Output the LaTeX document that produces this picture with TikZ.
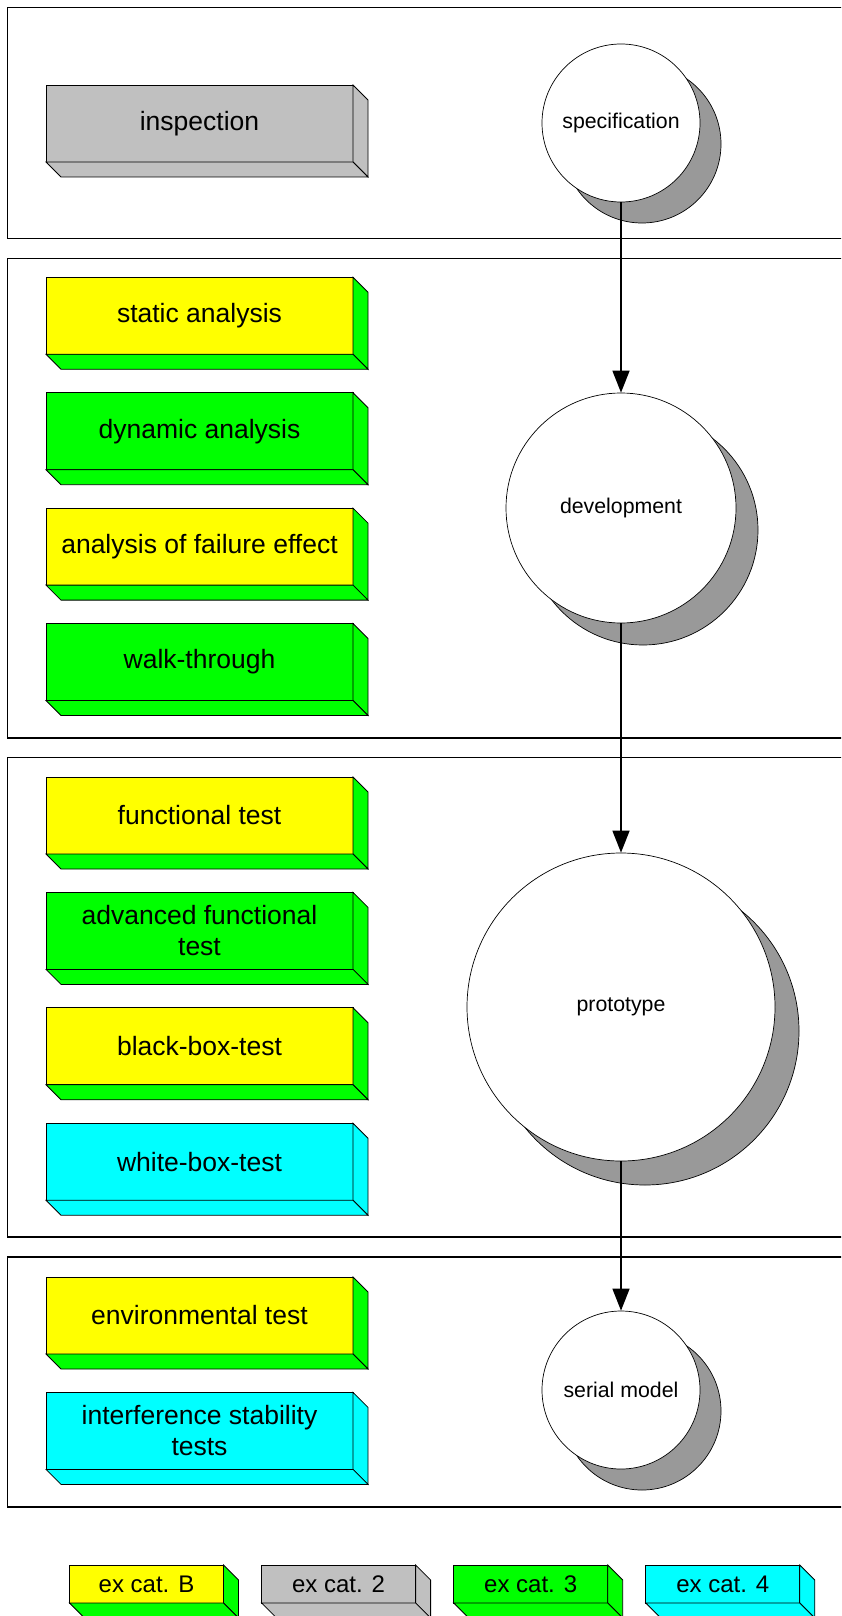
\documentclass[tikz,border=0pt]{standalone}
\usepackage{fontspec}
\setmainfont{Liberation Sans}
\usetikzlibrary{arrows.meta,calc}

\definecolor{cyel}{HTML}{FFFF00}
\definecolor{cgrn}{HTML}{00FF00}
\definecolor{ccyn}{HTML}{00FFFF}
\definecolor{cgry}{HTML}{C0C0C0}
\definecolor{cshd}{HTML}{999999}

% 3D block: name, top-left corner, width, height, front colour, side colour, font size, text
\newcommand\cubebox[8]{%
  \node[blockface, fill=#5, minimum width=#3pt, minimum height=#4pt,
        font=\fontsize{#7}{31}\selectfont] (#1) at (#2) {#8};
  \filldraw[sideface, fill=#6] (#1.north east) -- ([shift={(15,15)}]#1.north east)
    -- ([shift={(15,15)}]#1.south east) -- (#1.south east) -- cycle;
  \filldraw[sideface, fill=#6] (#1.south west) -- (#1.south east)
    -- ([shift={(15,15)}]#1.south east) -- ([shift={(15,15)}]#1.south west) -- cycle;
}

% stage disc with its drop shadow: name, centre, radius, shadow offset, text
\newcommand\stagedisc[5]{%
  \node[discshadow, minimum size=2*#3 pt] (#1-shadow) at ($(#2)+(#4,#4)$) {};
  \node[disc, minimum size=2*#3 pt] (#1) at (#2) {#5};
}

\tikzset{
  panel/.style={draw=black, line width=1.6pt, fill=white},
  blockface/.style={draw=black, line width=0.8pt, anchor=north west, inner sep=0pt,
                    outer sep=0pt, align=center, text=black},
  sideface/.style={draw=black, line width=0.8pt, line join=miter},
  disc/.style={circle, draw=black, line width=0.7pt, fill=white, inner sep=0pt,
               font=\fontsize{21.3}{25}\selectfont},
  discshadow/.style={circle, draw=black, line width=0.7pt, fill=cshd, inner sep=0pt},
  flow/.style={draw=black, line width=1.4pt, -{Triangle[length=22pt,width=17pt]}},
}

\begin{document}
\begin{tikzpicture}[x=1pt, y=-1pt]
  \useasboundingbox (0,0) rectangle (841,1616);
  \clip (0,0) rectangle (841,1616);
  \fill[white] (0,0) rectangle (841,1616);

  % phase panels
  \draw[panel] (7.5,7.5) rectangle (900,238.5);
  \draw[panel] (7.5,258.5) rectangle (900,738);
  \draw[panel] (7.5,757.5) rectangle (900,1237);
  \draw[panel] (7.5,1257) rectangle (900,1507);

  % test methods
  \cubebox{insp}{46,85}{307}{77}{cgry}{cgry}{26.5}{inspection}
  \cubebox{stat}{46,277.3}{307}{77}{cyel}{cgrn}{26.5}{static analysis}
  \cubebox{dyn}{46,392.7}{307}{77}{cgrn}{cgrn}{26.5}{dynamic analysis}
  \cubebox{fail}{46,508.1}{307}{77}{cyel}{cgrn}{26.5}{analysis of failure effect}
  \cubebox{walk}{46,623.5}{307}{77}{cgrn}{cgrn}{26.5}{walk-through}
  \cubebox{func}{46,777}{307}{77}{cyel}{cgrn}{26.5}{functional test}
  \cubebox{adv}{46,892.4}{307}{77}{cgrn}{cgrn}{26.5}{advanced functional\\test}
  \cubebox{black}{46,1007.8}{307}{77}{cyel}{cgrn}{26.5}{black-box-test}
  \cubebox{white}{46,1123.2}{307}{77}{ccyn}{ccyn}{26.5}{white-box-test}
  \cubebox{env}{46,1277}{307}{77}{cyel}{cgrn}{26.5}{environmental test}
  \cubebox{intf}{46,1392.4}{307}{77}{ccyn}{ccyn}{26.5}{interference stability\\tests}

  % legend
  \cubebox{legB}{69.5,1565}{154}{38}{cyel}{cgrn}{24}{ex cat. B}
  \cubebox{leg2}{261.6,1565}{154}{38}{cgry}{cgry}{24}{ex cat. 2}
  \cubebox{leg3}{453.7,1565}{154}{38}{cgrn}{cgrn}{24}{ex cat. 3}
  \cubebox{leg4}{645.8,1565}{154}{38}{ccyn}{ccyn}{24}{ex cat. 4}

  % development stages
  \stagedisc{spec}{621,123}{79}{21}{specification}
  \stagedisc{dev}{621,508}{115}{22}{development}
  \stagedisc{proto}{621,1007}{154}{24}{prototype}
  \stagedisc{serial}{621,1390}{79}{21}{serial model}

  \draw[flow] (spec) -- (dev);
  \draw[flow] (dev) -- (proto);
  \draw[flow] (proto) -- (serial);
\end{tikzpicture}
\end{document}
